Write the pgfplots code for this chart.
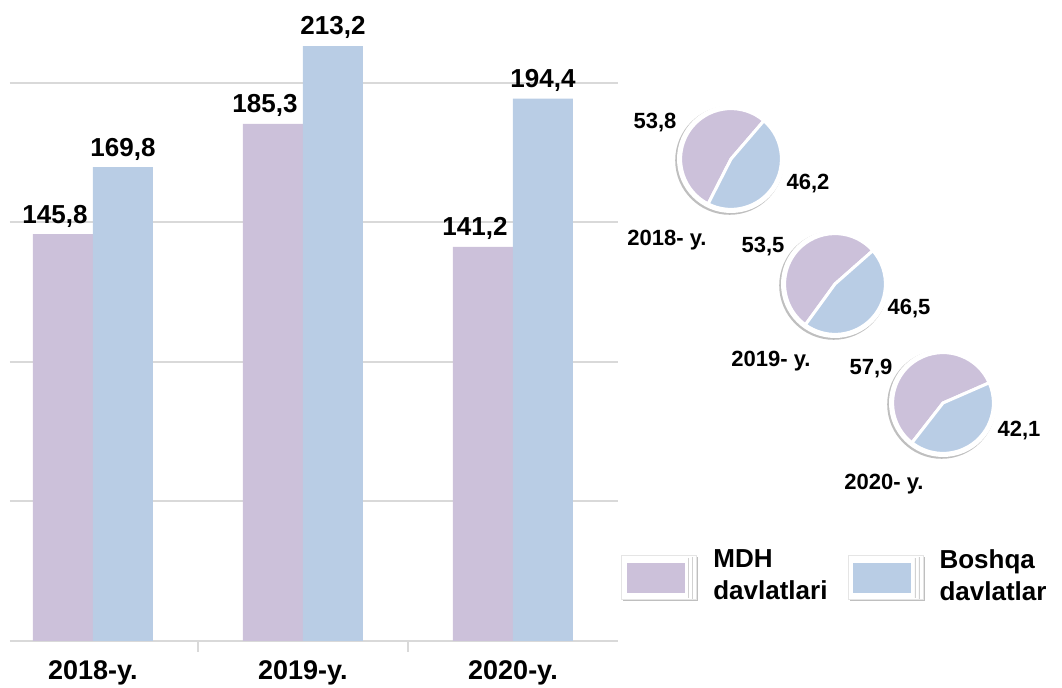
\documentclass[border=0pt]{standalone}
\usepackage{pgfplots}
\usepackage{pgfplotstable}
\pgfplotsset{compat=1.18}
\usepackage{fontspec}
\setmainfont{Liberation Sans}
\definecolor{mdh}{HTML}{CCC1DA}
\definecolor{bosh}{HTML}{B9CDE5}
\definecolor{gridc}{HTML}{D9D9D9}
\newcommand\bigf{\fontsize{13}{16}\selectfont\bfseries}
\newcommand\tickf{\fontsize{13.5}{16}\selectfont\bfseries}
\newcommand\pief{\fontsize{11}{13}\selectfont\bfseries}

\pgfplotstableread{
x mdh bosh
0 145.8 169.8
1 185.3 213.2
2 141.2 194.4
}\bardata

% pie: centre x, centre y (pixels, downward), start angle, MDH share (%)
\newcommand\pie[4]{%
  \fill[black!25] ([shift={(-0.7pt,-0.7pt)}]axis cs:#1,-#2) circle[radius=27.2pt];
  \fill[white] (axis cs:#1,-#2) circle[radius=27pt];
  \filldraw[fill=mdh, draw=white, line width=1.5pt, line join=round]
    (axis cs:#1,-#2) -- ++(#3:25.2pt) arc[start angle=#3, delta angle=#4*3.6, radius=25.2pt] -- cycle;
  \filldraw[fill=bosh, draw=white, line width=1.5pt, line join=round]
    (axis cs:#1,-#2) -- ++(#3:25.2pt) arc[start angle=#3, delta angle=-(100-#4)*3.6, radius=25.2pt] -- cycle;
}

\begin{document}
\begin{tikzpicture}
\useasboundingbox (0,0) rectangle (531pt,-344pt);
\begin{axis}[
  at={(5pt,-320.5pt)}, anchor=south west,
  scale only axis, width=304pt, height=320.5pt,
  xmin=-0.395, xmax=2.5, ymin=0, ymax=229.7,
  ybar=0pt, bar width=30pt,
  axis x line*=bottom, axis y line*=left,
  x axis line style={gridc, line width=1pt},
  y axis line style={draw=none},
  ytick={50,100,150,200}, yticklabels={}, ytick style={draw=none},
  ymajorgrids, grid style={gridc, line width=1pt},
  xtick={0,1,2}, xticklabels={2018-y.,2019-y.,2020-y.},
  major x tick style={draw=none},
  extra x ticks={0.5,1.5}, extra x tick labels={},
  extra x tick style={major x tick style={draw=gridc, line width=1pt}, major tick length=5.5pt, tick align=outside, xmajorgrids=false},
  xticklabel style={font=\tickf, yshift=-2pt},
  nodes near coords={\pgfmathprintnumber[fixed,fixed zerofill,precision=1,use comma,assume math mode=true]{\pgfplotspointmeta}},
  nodes near coords style={font=\bigf, anchor=south, yshift=0pt},
  every axis plot post/.append style={legend image code/.code={
      \fill[black!25] (0.8pt,-12.4pt) rectangle (38.3pt,9.6pt);
      \filldraw[fill=white, draw=black!10, line width=0.4pt] (0pt,-11.8pt) rectangle (37.5pt,10.2pt);
      \draw[black!18, line width=0.4pt] (33.5pt,-10.8pt) -- (33.5pt,9.2pt) (35.5pt,-11.3pt) -- (35.5pt,9.7pt);
      \fill (2.5pt,-8.5pt) rectangle (31.5pt,6.5pt);
  }},
  legend style={at={(axis description cs:0.995,0.150)}, anchor=north west,
    draw=none, fill=none, legend columns=2, font=\bigf,
    nodes={align=left, inner sep=0pt},
    /tikz/every odd column/.append style={column sep=7.5pt},
    /tikz/every even column/.append style={column sep=10pt}},
  clip=false
]
\addplot[fill=mdh, draw=none, every node near coord/.append style={xshift=-4pt}] table[x=x, y=mdh] {\bardata};
\addlegendentry{MDH\\davlatlari}
\addplot[fill=bosh, draw=none] table[x=x, y=bosh] {\bardata};
\addlegendentry{Boshqa\\davlatlar}
\end{axis}

\begin{axis}[
  at={(0pt,-344pt)}, anchor=south west,
  scale only axis, width=531pt, height=344pt,
  xmin=0, xmax=1062, ymin=-688, ymax=0,
  hide axis, clip=false
]
\pie{731}{159}{49.3}{53.8}
\pie{835}{284}{41.4}{53.5}
\pie{943}{403}{23.6}{57.9}
\node[font=\pief] at (axis cs:655,-123) {53,8};
\node[font=\pief] at (axis cs:808,-184) {46,2};
\node[font=\pief] at (axis cs:667,-240) {2018- y.};
\node[font=\pief] at (axis cs:763,-247) {53,5};
\node[font=\pief] at (axis cs:909,-309) {46,5};
\node[font=\pief] at (axis cs:771,-361) {2019- y.};
\node[font=\pief] at (axis cs:871,-369) {57,9};
\node[font=\pief] at (axis cs:1019,-431) {42,1};
\node[font=\pief] at (axis cs:884,-484) {2020- y.};
\end{axis}
\end{tikzpicture}
\end{document}
